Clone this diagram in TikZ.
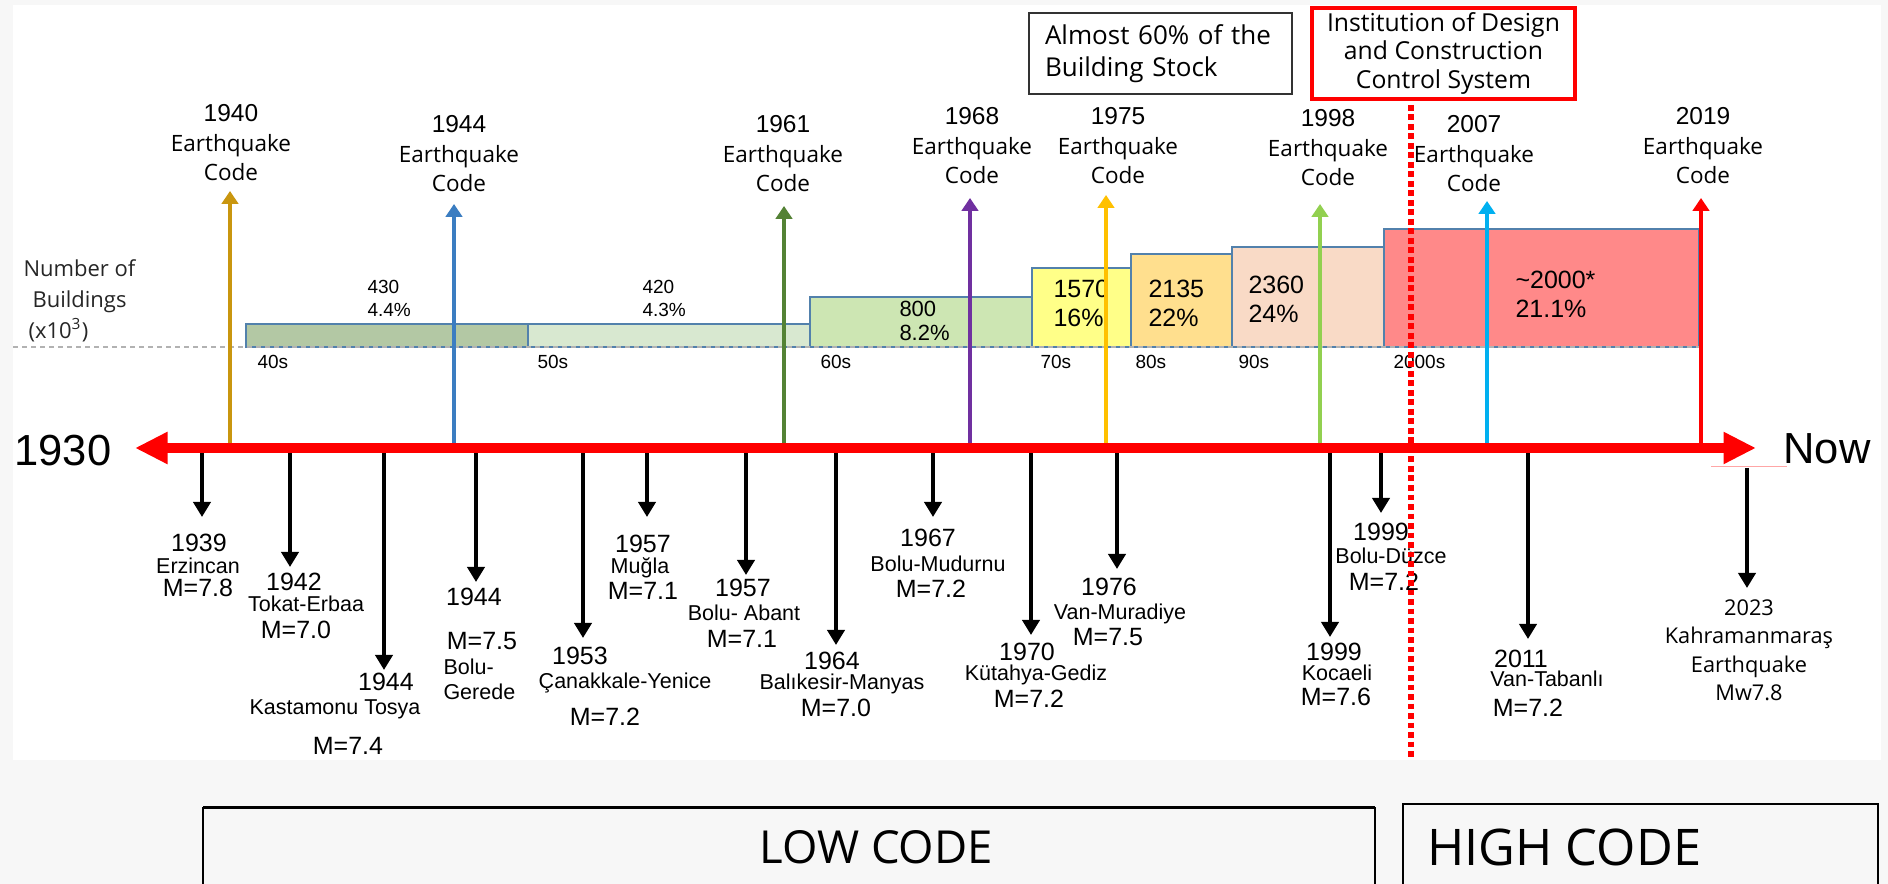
\documentclass[tikz,border=0pt]{standalone}
\usepackage{fontspec}
\setmainfont{Liberation Sans}
\newfontfamily\osans{Open Sans}
\usetikzlibrary{arrows.meta}

\definecolor{pagegray}{HTML}{F7F7F7}
\definecolor{barline}{HTML}{5281AC}
\definecolor{fortyfill}{HTML}{B3C8A4}
\definecolor{fiftyfill}{HTML}{D8E8D0}
\definecolor{sixtyfill}{HTML}{CDE6B3}
\definecolor{seventyfill}{HTML}{FFFF88}
\definecolor{eightyfill}{HTML}{FFDF8E}
\definecolor{ninetyfill}{HTML}{F9DAC6}
\definecolor{twothousandfill}{HTML}{FF8989}
\definecolor{codeA}{HTML}{C9960F}
\definecolor{codeB}{HTML}{3B7DC1}
\definecolor{codeC}{HTML}{548235}
\definecolor{codeD}{HTML}{7030A0}
\definecolor{codeE}{HTML}{FFC000}
\definecolor{codeF}{HTML}{92D050}
\definecolor{codeG}{HTML}{00B0F0}
\definecolor{codeH}{HTML}{FF0000}
\definecolor{boxgray}{HTML}{333333}

\newcommand\codeyr[1]{{\rmfamily\fontsize{9.8}{11.8}\selectfont #1}}

\tikzset{
  bar/.style={draw=barline, line width=1pt},
  codearrow/.style={line width=1.6pt, -{Triangle[length=5.2pt,width=6.6pt]}},
  quakearrow/.style={line width=1.8pt, -{Triangle[length=6pt,width=6.8pt]}},
  timeline/.style={red, line width=4pt,
    {Triangle[length=13pt,width=12pt]}-{Triangle[length=13pt,width=12pt]}},
  codelbl/.style={align=center, inner sep=0pt, font=\osans\fontsize{9}{11.8}\selectfont},
  yr/.style={inner sep=0pt, text height=7.2pt, text depth=0pt, font=\fontsize{10}{12}\selectfont},
  mag/.style={inner sep=0pt, text height=7.2pt, text depth=0pt, font=\fontsize{10}{12}\selectfont},
  place/.style={inner sep=0pt, text height=6.2pt, text depth=0pt, font=\fontsize{8.6}{10}\selectfont},
  barval/.style={align=left, inner sep=0pt, anchor=west},
  decade/.style={inner sep=0pt, anchor=west, text height=5.4pt, text depth=0pt, font=\fontsize{7.6}{9}\selectfont},
  bigend/.style={inner sep=0pt, text height=12.5pt, text depth=0pt, font=\fontsize{17.4}{20}\selectfont},
}

\begin{document}
\begin{tikzpicture}[x=0.4pt,y=-0.4pt]
\useasboundingbox (0,0) rectangle (1888,884);
\clip (0,0) rectangle (1888,884);

% page and white panel
\fill[pagegray] (0,0) rectangle (1888,884);
\fill[white] (13,5) rectangle (1881,760);

% building-stock bars per decade
\draw[bar, fill=fortyfill] (246,324) rectangle (528,347);
\draw[bar, fill=fiftyfill] (528,324) rectangle (810,347);
\draw[bar, fill=sixtyfill] (810,297) rectangle (1032,347);
\draw[bar, fill=seventyfill] (1032,268) rectangle (1131,347);
\draw[bar, fill=eightyfill] (1131,254) rectangle (1232,347);
\draw[bar, fill=ninetyfill] (1232,247) rectangle (1384,347);
\draw[bar, fill=twothousandfill] (1384,229) rectangle (1699,347);

% zero line of the bars
\coordinate (zl) at (13,347);
\coordinate (zr) at (1699,347);
\draw[black!30, line width=0.45pt, dash pattern=on 2pt off 1.6pt] (zl) -- (zr);

% axis caption
\node[anchor=west, align=left, inner sep=0pt, text=black!85,
      font=\osans\fontsize{8.8}{12.4}\selectfont] (nob) at (23,301)
  {Number of\\\hspace*{3.6pt}Buildings\\\hspace*{2pt}(x10\textsuperscript{3})};

% bar values
\node[barval, font=\fontsize{7.6}{9.2}\selectfont] (v40) at (367,298.5) {430\\4.4\%};
\node[barval, font=\fontsize{7.6}{9.2}\selectfont] (v50) at (642,298) {420\\4.3\%};
\node[barval, font=\fontsize{8.8}{9.6}\selectfont] (v60) at (899,321) {800\\8.2\%};
\node[barval, font=\fontsize{10}{11.6}\selectfont] (v70) at (1053,303.5) {1570\\16\%};
\node[barval, font=\fontsize{10}{11.6}\selectfont] (v80) at (1148,303.5) {2135\\22\%};
\node[barval, font=\fontsize{10}{11.6}\selectfont] (v90) at (1248,299) {2360\\24\%};
\node[barval, font=\fontsize{10}{11.6}\selectfont] (v00) at (1515,294) {\textasciitilde2000*\\21.1\%};

% decade labels
\node[decade] (d40) at (257,362) {40s};
\node[decade] (d50) at (537,362) {50s};
\node[decade] (d60) at (820,362) {60s};
\node[decade] (d70) at (1040,362) {70s};
\node[decade] (d80) at (1135,362) {80s};
\node[decade] (d90) at (1238,362) {90s};
\node[decade] (d00) at (1393,362) {2000s};

% earthquake codes: arrows up from the time axis
\foreach \n/\x/\t/\c in {40/230/191/codeA, 44/454/204/codeB, 61/784/206/codeC,
    68/970/198/codeD, 75/1106/195/codeE, 98/1320/204/codeF, 07/1487/201/codeG,
    19/1701/198/codeH} {
  \coordinate (ca\n) at (\x,448);
  \coordinate (ct\n) at (\x,\t);
  \draw[codearrow, color=\c] (ca\n) -- (ct\n);
}
\node[codelbl] (l40) at (231,143) {\codeyr{1940}\\Earthquake\\Code};
\node[codelbl] (l44) at (459,154) {\codeyr{1944}\\Earthquake\\Code};
\node[codelbl] (l61) at (783,154) {\codeyr{1961}\\Earthquake\\Code};
\node[codelbl] (l68) at (972,146) {\codeyr{1968}\\Earthquake\\Code};
\node[codelbl] (l75) at (1118,146) {\codeyr{1975}\\Earthquake\\Code};
\node[codelbl] (l98) at (1328,148) {\codeyr{1998}\\Earthquake\\Code};
\node[codelbl] (l07) at (1474,154) {\codeyr{2007}\\Earthquake\\Code};
\node[codelbl] (l19) at (1703,146) {\codeyr{2019}\\Earthquake\\Code};

% earthquakes: arrows down from the time axis
\foreach \n/\x/\t in {39/202/517, 42/290/567, 44k/384/670, 44b/476/582, 53/583/638,
    57m/647/517, 57a/746/575, 64/836/645, 67/933/517, 70/1031/635, 76/1117/569,
    99k/1330/637, 99d/1381/513, 11/1528/639} {
  \coordinate (qa\n) at (\x,448);
  \coordinate (qb\n) at (\x,\t);
  \draw[quakearrow] (qa\n) -- (qb\n);
}
\coordinate (qa23) at (1747,468);
\coordinate (qb23) at (1747,588);
\draw[quakearrow] (qa23) -- (qb23);

% time axis
\coordinate (tl) at (135,448);
\coordinate (tr) at (1756,448);
\draw[timeline] (tl) -- (tr);
\node[bigend] (start) at (63,450) {1930};
\node[bigend] (now) at (1827,448) {Now};
\coordinate (pl) at (1711,467);
\coordinate (pr) at (1787,467);
\draw[red!35, line width=0.4pt] (pl) -- (pr);

% earthquake labels
\node[yr] (y39) at (199,543) {1939};
\node[place] (p39) at (198,566) {Erzincan};
\node[mag] (m39) at (198,588) {M=7.8};

\node[yr] (y42) at (294,582) {1942};
\node[place] (p42) at (306,604) {Tokat-Erbaa};
\node[mag] (m42) at (296,630) {M=7.0};

\node[yr] (y44k) at (386,682) {1944};
\node[place] (p44k) at (335,707) {Kastamonu Tosya};
\node[mag] (m44k) at (348,746) {M=7.4};

\node[yr] (y44b) at (474,597) {1944};
\node[mag] (m44b) at (482,641) {M=7.5};
\node[place, anchor=west] (p44b) at (443,667) {Bolu-};
\node[place, anchor=west] (r44b) at (443,692) {Gerede};

\node[yr] (y53) at (580,656) {1953};
\node[place] (p53) at (625,681) {Çanakkale-Yenice};
\node[mag] (m53) at (605,717) {M=7.2};

\node[yr] (y57m) at (643,544) {1957};
\node[place] (p57m) at (640,566) {Muğla};
\node[mag] (m57m) at (643,591) {M=7.1};

\node[yr] (y57a) at (743,588) {1957};
\node[place] (p57a) at (744,613) {Bolu- Abant};
\node[mag] (m57a) at (742,639) {M=7.1};

\node[yr] (y64) at (832,661) {1964};
\node[place] (p64) at (842,682) {Balıkesir-Manyas};
\node[mag] (m64) at (836,708) {M=7.0};

\node[yr] (y67) at (928,538) {1967};
\node[place] (p67) at (938,564) {Bolu-Mudurnu};
\node[mag] (m67) at (931,589) {M=7.2};

\node[yr] (y70) at (1027,652) {1970};
\node[place] (p70) at (1036,673) {Kütahya-Gediz};
\node[mag] (m70) at (1029,699) {M=7.2};

\node[yr] (y76) at (1109,587) {1976};
\node[place] (p76) at (1120,612) {Van-Muradiye};
\node[mag] (m76) at (1108,637) {M=7.5};

\node[yr] (y99k) at (1334,652) {1999};
\node[place] (p99k) at (1337,673) {Kocaeli};
\node[mag] (m99k) at (1336,697) {M=7.6};

\node[yr] (y99d) at (1381,532) {1999};
\node[place] (p99d) at (1391,556) {Bolu-Düzce};
\node[mag] (m99d) at (1384,582) {M=7.2};

\node[yr] (y11) at (1521,659) {2011};
\node[place] (p11) at (1547,679) {Van-Tabanlı};
\node[mag] (m11) at (1528,708) {M=7.2};

\node[align=center, inner sep=0pt, font=\osans\fontsize{8.7}{11.4}\selectfont] (k23)
  at (1749,650.5) {2023\\Kahramanmaraş\\Earthquake\\Mw7.8};

% notes at the top
\node[draw=boxgray, line width=0.6pt, fill=white, anchor=north west, outer sep=0pt,
      minimum width=105.2pt, minimum height=32.4pt, text width=92.4pt, inner xsep=6.4pt,
      align=left, font=\osans\fontsize{10.4}{12.8}\selectfont] (stock)
  at (1029,13) {Almost 60\% of the\\Building Stock};
\node[draw=red, line width=1.6pt, fill=white, outer sep=0pt,
      minimum width=105.2pt, minimum height=36.4pt, inner sep=0pt,
      align=center, font=\osans\fontsize{9.9}{11.4}\selectfont] (inst)
  at (1443.5,53.5) {Institution of Design\\and Construction\\Control System};

% start of the design and construction control system
\coordinate (dt) at (1411,105);
\coordinate (db) at (1411,760);
\draw[red, line width=2.2pt, dash pattern=on 2.3pt off 1.5pt] (dt) -- (db);

% code periods
\draw[line width=0.8pt] (203,900) -- (203,808) -- (1375,808) -- (1375,900);
\draw[line width=1.2pt] (203,808) -- (1375,808);
\draw[line width=0.6pt] (1403,900) -- (1403,804) -- (1878,804) -- (1878,900);
\draw[line width=0.8pt] (1403,804) -- (1878,804);
\node[anchor=base west, inner sep=0pt, font=\osans\fontsize{18.2}{20}\selectfont] (low)
  at (759,864) {LOW CODE};
\node[anchor=base west, inner sep=0pt, font=\osans\fontsize{20.2}{22}\selectfont] (high)
  at (1427,866) {HIGH CODE};
\end{tikzpicture}
\end{document}
